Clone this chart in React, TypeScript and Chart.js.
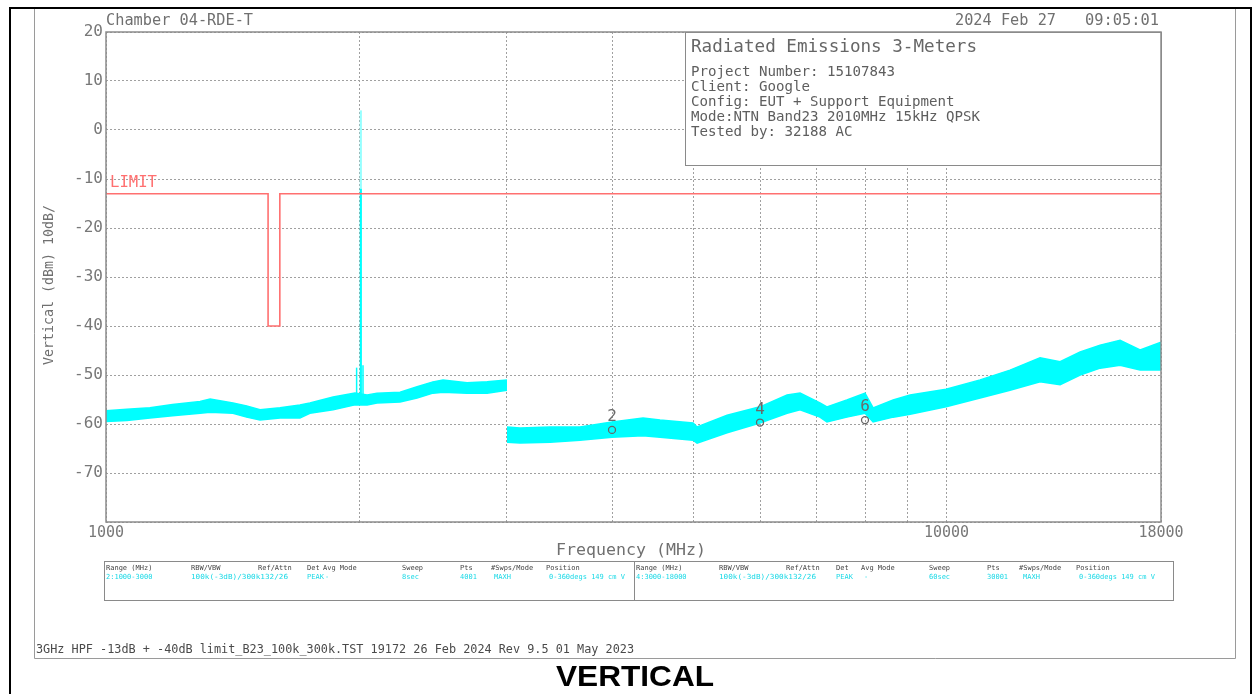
import React, { useEffect, useRef } from 'react';
import { Chart, registerables } from 'chart.js';

Chart.register(...registerables);

// ---------- DATA ----------
const yTickValues = [20, 10, 0, -10, -20, -30, -40, -50, -60, -70, -80];
const xGridFreqs = [1000, 2000, 3000, 4000, 5000, 6000, 7000, 8000, 9000, 10000, 18000];
const xLabelFreqs = [1000, 10000, 18000];

// Range 2: 1000-3000 MHz trace envelope (dBm)
const seg1Freqs = [1000, 1059, 1128, 1200, 1294, 1330, 1416, 1470, 1525, 1611, 1701, 1748, 1863, 1978, 2045, 2101, 2238, 2345, 2449, 2518, 2689, 2841, 3000];
const seg1Upper = [-57.3, -57.0, -56.7, -56.0, -55.4, -54.9, -55.7, -56.3, -57.1, -56.7, -56.1, -55.7, -54.5, -53.7, -54.1, -53.7, -53.5, -52.4, -51.4, -51.0, -51.6, -51.4, -51.0];
const seg1Lower = [-59.5, -59.3, -58.8, -58.3, -57.8, -57.6, -57.8, -58.6, -59.2, -58.8, -58.8, -57.8, -57.1, -56.1, -56.1, -55.7, -55.5, -54.7, -53.7, -53.5, -53.7, -53.7, -53.1];

// Range 4: 3000-18000 MHz trace envelope (dBm)
const seg2Freqs = [3000, 3109, 3376, 3664, 4000, 4355, 4563, 4995, 5050, 5483, 6000, 6462, 6696, 7071, 7208, 7612, 8000, 8180, 8641, 9052, 9990, 10965, 11903, 12924, 13653, 14424, 15235, 16091, 16999, 18000];
const seg2Upper = [-60.6, -60.8, -60.6, -60.6, -59.6, -58.8, -59.2, -59.8, -60.6, -58.2, -56.5, -54.1, -53.7, -55.7, -56.5, -55.1, -53.7, -56.7, -55.1, -54.1, -52.9, -51.0, -49.0, -46.5, -47.3, -45.3, -43.9, -42.9, -44.9, -43.3];
const seg2Lower = [-63.7, -63.9, -63.7, -63.3, -62.7, -62.4, -62.7, -63.3, -63.9, -61.8, -59.8, -57.8, -57.1, -58.6, -59.6, -58.6, -57.8, -59.6, -58.6, -58.0, -56.5, -54.7, -53.1, -51.4, -52.0, -50.0, -48.6, -48.0, -49.0, -49.0];

// Narrow emissions around the 2010 MHz carrier
const spikeFreqs = [1987, 2010, 2022];
const spikeBase = [-56, -56, -55.5];
const spikePeaks = [-48.5, -12, -48];
const carrierFreq = 2010;
const carrierFaintTop = 4;

// Limit line
const limitFreqs = [1000, 1559, 1559, 1610, 1610, 18000];
const limitLevels = [-13, -13, -40, -40, -13, -13];

// Markers
const markerFreqs = [4000, 6000, 8000];
const markerLevels = [-61.2, -59.7, -59.2];
const markerLabels = ['2', '4', '6'];

// Text
const infoTitle = 'Radiated Emissions 3-Meters';
const infoLines = [
  'Project Number: 15107843',
  'Client: Google',
  'Config: EUT + Support Equipment',
  'Mode:NTN Band23 2010MHz 15kHz QPSK',
  'Tested by: 32188 AC',
];
const tableHeaders = ['Range (MHz)', 'RBW/VBW', 'Ref/Attn', 'Det', 'Avg Mode', 'Sweep', 'Pts', '#Swps/Mode', 'Position'];
const tableRow1 = ['2:1000-3000', '100k(-3dB)/300k132/26', '', 'PEAK', '-', '8sec', '4001', 'MAXH', '0-360degs 149 cm V'];
const tableRow2 = ['4:3000-18000', '100k(-3dB)/300k132/26', '', 'PEAK', '-', '60sec', '30001', 'MAXH', '0-360degs 149 cm V'];
const footerText = '3GHz HPF -13dB + -40dB limit_B23_100k_300k.TST 19172 26 Feb 2024 Rev 9.5 01 May 2023';

// ---------- STYLE / LAYOUT ----------
const CYAN = 'rgb(0,255,255)';
const RED = 'rgb(255,112,112)';
const GREY_TEXT = '#707070';
const MONO = 'DejaVu Sans Mono';
const W = 1259;
const H = 694;

function fitText(ctx: CanvasRenderingContext2D, text: string, x: number, y: number, w: number, size: number, color: string, family = MONO, weight = 'normal') {
  ctx.save();
  ctx.font = `${weight} ${size}px "${family}"`;
  ctx.fillStyle = color;
  ctx.textBaseline = 'middle';
  ctx.textAlign = 'left';
  const m = ctx.measureText(text).width || 1;
  ctx.translate(x, y);
  ctx.scale(w / m, 1);
  ctx.fillText(text, 0, 0);
  ctx.restore();
}

function plainText(ctx: CanvasRenderingContext2D, text: string, x: number, y: number, size: number, color: string, family = MONO, align: CanvasTextAlign = 'left') {
  ctx.save();
  ctx.font = `${size}px "${family}"`;
  ctx.fillStyle = color;
  ctx.textBaseline = 'middle';
  ctx.textAlign = align;
  ctx.fillText(text, x, y);
  ctx.restore();
}

const decor = {
  id: 'decor',
  beforeDraw(chart: any) {
    const ctx: CanvasRenderingContext2D = chart.ctx;
    ctx.save();
    ctx.fillStyle = '#fff';
    ctx.fillRect(0, 0, W, H);
    // outer black frame
    ctx.strokeStyle = '#000';
    ctx.lineWidth = 2;
    ctx.beginPath();
    ctx.moveTo(10, H);
    ctx.lineTo(10, 8);
    ctx.lineTo(1251, 8);
    ctx.lineTo(1251, H);
    ctx.stroke();
    // inner grey frame
    ctx.strokeStyle = '#9a9a9a';
    ctx.lineWidth = 1;
    ctx.beginPath();
    ctx.moveTo(34.5, 9);
    ctx.lineTo(34.5, 658.5);
    ctx.lineTo(1235.5, 658.5);
    ctx.lineTo(1235.5, 9);
    ctx.stroke();
    ctx.restore();
  },
  beforeDatasetsDraw(chart: any) {
    const ctx: CanvasRenderingContext2D = chart.ctx;
    const a = chart.chartArea;
    // info box
    ctx.save();
    ctx.fillStyle = '#fff';
    ctx.fillRect(685, a.top, a.right - 685, 133);
    ctx.strokeStyle = '#8a8a8a';
    ctx.lineWidth = 1;
    ctx.strokeRect(685.5, a.top + 0.5, a.right - 685, 133);
    ctx.restore();
    fitText(ctx, infoTitle, 691, 47, 286, 17.5, '#666');
    infoLines.forEach((t, i) => fitText(ctx, t, 691, 72 + i * 15.2, t.length * 8.5, 14, '#5e5e5e'));
  },
  afterDraw(chart: any) {
    const ctx: CanvasRenderingContext2D = chart.ctx;
    const a = chart.chartArea;
    // plot frame
    ctx.save();
    ctx.strokeStyle = '#8c8c8c';
    ctx.lineWidth = 1.5;
    ctx.strokeRect(a.left, a.top, a.right - a.left, a.bottom - a.top);
    ctx.restore();

    // marker labels
    const mIdx = chart.data.datasets.findIndex((d: any) => d.label === 'markers');
    const meta = chart.getDatasetMeta(mIdx);
    meta.data.forEach((p: any, i: number) => {
      plainText(ctx, markerLabels[i], p.x, p.y - 13, 16, '#6a6a6a', MONO, 'center');
    });

    // header texts
    fitText(ctx, 'Chamber 04-RDE-T', 106, 21, 147, 15, GREY_TEXT);
    fitText(ctx, '2024 Feb 27', 955, 21, 101, 15, GREY_TEXT);
    fitText(ctx, '09:05:01', 1085, 21, 74, 15, GREY_TEXT);

    // LIMIT label
    fitText(ctx, 'LIMIT', 110, 183, 47, 15, RED);

    // y title
    ctx.save();
    ctx.translate(49, 365);
    ctx.rotate(-Math.PI / 2);
    fitText(ctx, 'Vertical (dBm) 10dB/', 0, 0, 160, 13.5, GREY_TEXT);
    ctx.restore();

    // x title
    fitText(ctx, 'Frequency (MHz)', 556, 551, 150, 16.5, GREY_TEXT);

    // settings table
    ctx.save();
    ctx.strokeStyle = '#8a8a8a';
    ctx.lineWidth = 1;
    ctx.strokeRect(104.5, 561.5, 1069, 39);
    ctx.beginPath();
    ctx.moveTo(634.5, 561.5);
    ctx.lineTo(634.5, 600.5);
    ctx.stroke();
    ctx.restore();
    const colsL = [106, 191, 258, 307, 323, 402, 460, 491, 546];
    const colsR = [636, 719, 786, 836, 861, 929, 987, 1019, 1076];
    const valL = [106, 191, 0, 307, 325, 402, 460, 494, 549];
    const valR = [636, 719, 0, 836, 864, 929, 987, 1023, 1079];
    tableHeaders.forEach((h, i) => {
      plainText(ctx, h, colsL[i], 568, 7, '#444');
      plainText(ctx, h, colsR[i], 568, 7, '#444');
    });
    tableRow1.forEach((v, i) => {
      if (!v) return;
      if (i === 1) fitText(ctx, v, valL[i], 577.5, 97, 7, '#1ad9e6');
      else plainText(ctx, v, valL[i], 577.5, 7, '#1ad9e6');
    });
    tableRow2.forEach((v, i) => {
      if (!v) return;
      if (i === 1) fitText(ctx, v, valR[i], 577.5, 97, 7, '#1ad9e6');
      else plainText(ctx, v, valR[i], 577.5, 7, '#1ad9e6');
    });

    // footer
    fitText(ctx, footerText, 36, 650, 598, 11.5, '#4a4a4a');
    // VERTICAL
    fitText(ctx, 'VERTICAL', 556, 678, 158, 30, '#000', 'Liberation Sans', 'bold');
  },
};

function pts(fs: number[], vs: number[]) {
  return fs.map((f, i) => ({ x: f, y: vs[i] }));
}

export default function App() {
  const ref = useRef<HTMLCanvasElement | null>(null);
  useEffect(() => {
    if (!ref.current) return;
    const datasets: any[] = [];
    datasets.push({ label: 'markers', data: pts(markerFreqs, markerLevels), showLine: false, pointRadius: 3.5, pointStyle: 'circle', pointBorderColor: '#666', pointBackgroundColor: 'rgba(0,0,0,0)', pointBorderWidth: 1.3, order: 0 });
    datasets.push({ label: 'limit', data: pts(limitFreqs, limitLevels), borderColor: RED, borderWidth: 1.6, pointRadius: 0, fill: false, order: 1 });
    spikeFreqs.forEach((f, i) => {
      datasets.push({ label: 'spike' + i, data: [{ x: f, y: spikeBase[i] }, { x: f, y: spikePeaks[i] }], borderColor: CYAN, borderWidth: f === carrierFreq ? 2.2 : 1.5, pointRadius: 0, fill: false, order: 2 });
    });
    datasets.push({ label: 'carrierTop', data: [{ x: carrierFreq, y: spikePeaks[1] }, { x: carrierFreq, y: carrierFaintTop }], borderColor: 'rgb(150,255,255)', borderWidth: 2.2, pointRadius: 0, fill: false, order: 2 });
    const base = datasets.length;
    datasets.push({ label: 'r2low', data: pts(seg1Freqs, seg1Lower), borderColor: CYAN, borderWidth: 1.5, pointRadius: 0, fill: false, order: 3 });
    datasets.push({ label: 'r2high', data: pts(seg1Freqs, seg1Upper), borderColor: CYAN, borderWidth: 1.5, pointRadius: 0, fill: base, backgroundColor: CYAN, order: 3 });
    datasets.push({ label: 'r4low', data: pts(seg2Freqs, seg2Lower), borderColor: CYAN, borderWidth: 1.5, pointRadius: 0, fill: false, order: 3 });
    datasets.push({ label: 'r4high', data: pts(seg2Freqs, seg2Upper), borderColor: CYAN, borderWidth: 1.5, pointRadius: 0, fill: base + 2, backgroundColor: CYAN, order: 3 });

    const chart = new Chart(ref.current, {
      type: 'line',
      data: { datasets },
      plugins: [decor],
      options: {
        animation: false,
        responsive: false,
        devicePixelRatio: 1,
        layout: { padding: { left: 0, right: 98, top: 32, bottom: 0 } },
        plugins: { legend: { display: false }, tooltip: { enabled: false }, title: { display: false } },
        elements: { line: { tension: 0 }, point: { radius: 0 } },
        scales: {
          x: {
            type: 'logarithmic',
            position: 'bottom',
            min: 1000,
            max: 18000,
            afterBuildTicks: (axis: any) => { axis.ticks = xGridFreqs.map((v) => ({ value: v })); },
            afterFit: (axis: any) => { axis.height = 172; },
            grid: { color: '#a0a0a0', lineWidth: 1, drawTicks: false },
            border: { display: false, dash: [2, 2] },
            ticks: {
              autoSkip: false,
              maxRotation: 0,
              minRotation: 0,
              padding: 2,
              color: '#787878',
              font: { family: MONO, size: 15 },
              callback: (v: any) => (xLabelFreqs.includes(Number(v)) ? String(v) : ''),
            },
          },
          y: {
            type: 'linear',
            min: -80,
            max: 20,
            afterBuildTicks: (axis: any) => { axis.ticks = yTickValues.map((v) => ({ value: v })); },
            afterFit: (axis: any) => { axis.width = 106; },
            grid: { color: '#a0a0a0', lineWidth: 1, drawTicks: false },
            border: { display: false, dash: [2, 2] },
            ticks: {
              padding: 3,
              color: '#787878',
              font: { family: MONO, size: 16 },
              callback: (v: any) => (Number(v) === -80 ? '' : String(v)),
            },
          },
        },
      } as any,
    });
    return () => chart.destroy();
  }, []);

  return (
    <div style={{ position: 'absolute', left: 0, top: 0, width: W, height: H }}>
      <canvas ref={ref} width={W} height={H} style={{ display: 'block', width: W, height: H }} />
    </div>
  );
}
